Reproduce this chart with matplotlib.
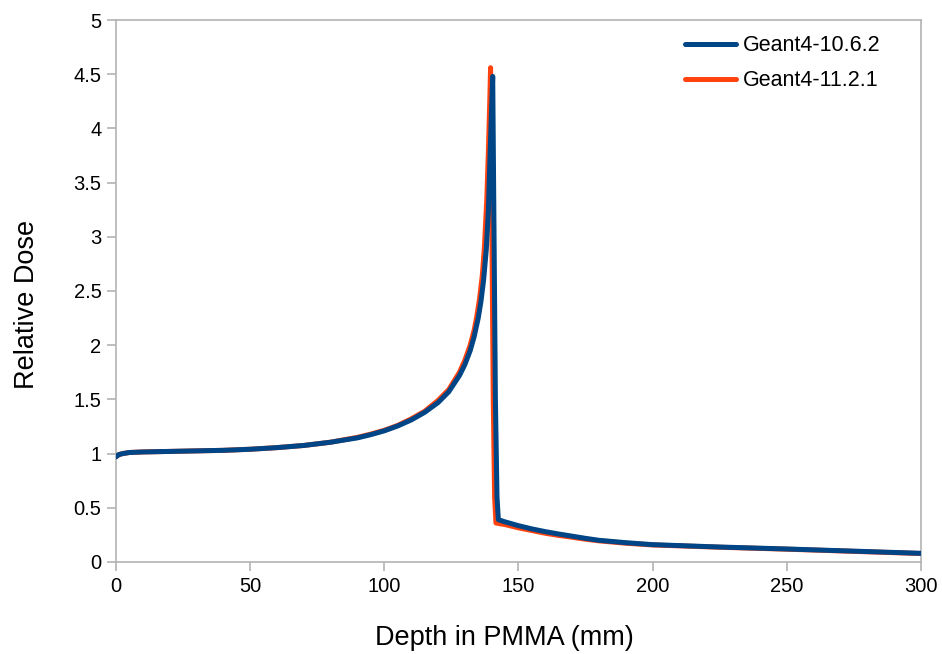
import matplotlib
matplotlib.use("Agg")
import matplotlib.pyplot as plt

plt.rcParams['font.family'] = ['Liberation Sans', 'DejaVu Sans']

# Geant4-10.6.2
depth_a = [0, 1, 2.5, 5, 10, 20, 30, 40, 50, 60, 70, 80, 90, 95, 100, 105,
           110, 115, 120, 124, 128, 130, 132, 133.5, 135, 136, 137, 138,
           138.8, 139.4, 140.0, 140.4, 140.9, 141.4, 142.0, 142.5, 145, 150,
           155, 160, 165, 170, 175, 180, 190, 200, 225, 250, 275, 300]
dose_a = [0.97, 0.99, 1.0, 1.01, 1.015, 1.02, 1.025, 1.03, 1.04, 1.055, 1.075,
          1.105, 1.145, 1.175, 1.21, 1.255, 1.31, 1.38, 1.47, 1.57, 1.72, 1.82,
          1.95, 2.08, 2.25, 2.4, 2.6, 2.88, 3.25, 3.75, 4.2, 4.48, 3.0, 1.5,
          0.6, 0.39, 0.37, 0.335, 0.305, 0.28, 0.258, 0.238, 0.218, 0.2, 0.178,
          0.16, 0.138, 0.12, 0.1, 0.08]

# Geant4-11.2.1
depth_b = [0, 1, 2.5, 5, 10, 20, 30, 40, 50, 60, 70, 80, 90, 95, 100, 105,
           110, 115, 120, 124, 128, 130, 132, 133.5, 134.5, 135.5, 136.5,
           137.3, 138.2, 138.8, 139.3, 139.6, 140.1, 140.6, 141.1, 141.6, 145,
           150, 155, 160, 165, 170, 175, 180, 190, 200, 225, 250, 275, 300]
dose_b = [0.97, 0.99, 1.0, 1.01, 1.015, 1.02, 1.025, 1.03, 1.04, 1.055, 1.075,
          1.105, 1.15, 1.18, 1.215, 1.26, 1.32, 1.39, 1.49, 1.59, 1.75, 1.86,
          2.0, 2.14, 2.27, 2.43, 2.64, 2.9, 3.35, 3.8, 4.25, 4.56, 3.0, 1.5,
          0.6, 0.36, 0.345, 0.315, 0.29, 0.265, 0.245, 0.228, 0.21, 0.195,
          0.173, 0.157, 0.136, 0.118, 0.098, 0.078]

blue = '#004586'
red = '#ff420e'
frame_c = '#b3b3b3'

fig = plt.figure(figsize=(9.42, 6.54), dpi=100)
ax = fig.add_axes([0.1231, 0.1407, 0.8546, 0.8287])

ax.plot(depth_b, dose_b, color=red, lw=3.6, solid_capstyle='round',
        solid_joinstyle='round', label='Geant4-11.2.1', zorder=2)
ax.plot(depth_a, dose_a, color=blue, lw=3.6, solid_capstyle='round',
        solid_joinstyle='round', label='Geant4-10.6.2', zorder=3)

ax.set_xlim(0, 300)
ax.set_ylim(0, 5)
ax.set_xticks([0, 50, 100, 150, 200, 250, 300])
ax.set_yticks([0, 0.5, 1, 1.5, 2, 2.5, 3, 3.5, 4, 4.5, 5])
ax.set_yticklabels(['0', '0.5', '1', '1.5', '2', '2.5', '3', '3.5', '4', '4.5', '5'])

for s in ax.spines.values():
    s.set_color(frame_c)
    s.set_linewidth(1.2)
ax.tick_params(direction='out', length=6.5, width=1.2, color=frame_c,
               labelsize=14.5, labelcolor='#000000', pad=4)

ax.set_xlabel('Depth in PMMA (mm)', fontsize=19.5, labelpad=21)
ax.set_ylabel('Relative Dose', fontsize=19.5, labelpad=24)
ax.xaxis.label.set_x(0.483)
ax.yaxis.label.set_y(0.476)

h, l = ax.get_legend_handles_labels()
ax.legend(h[::-1], l[::-1], loc='upper left', frameon=False, fontsize=15.5,
          handlelength=2.35, handletextpad=0.35, labelspacing=0.65,
          borderpad=0, borderaxespad=0, bbox_to_anchor=(0.707, 0.972))

fig.savefig('out.png', dpi=100)
